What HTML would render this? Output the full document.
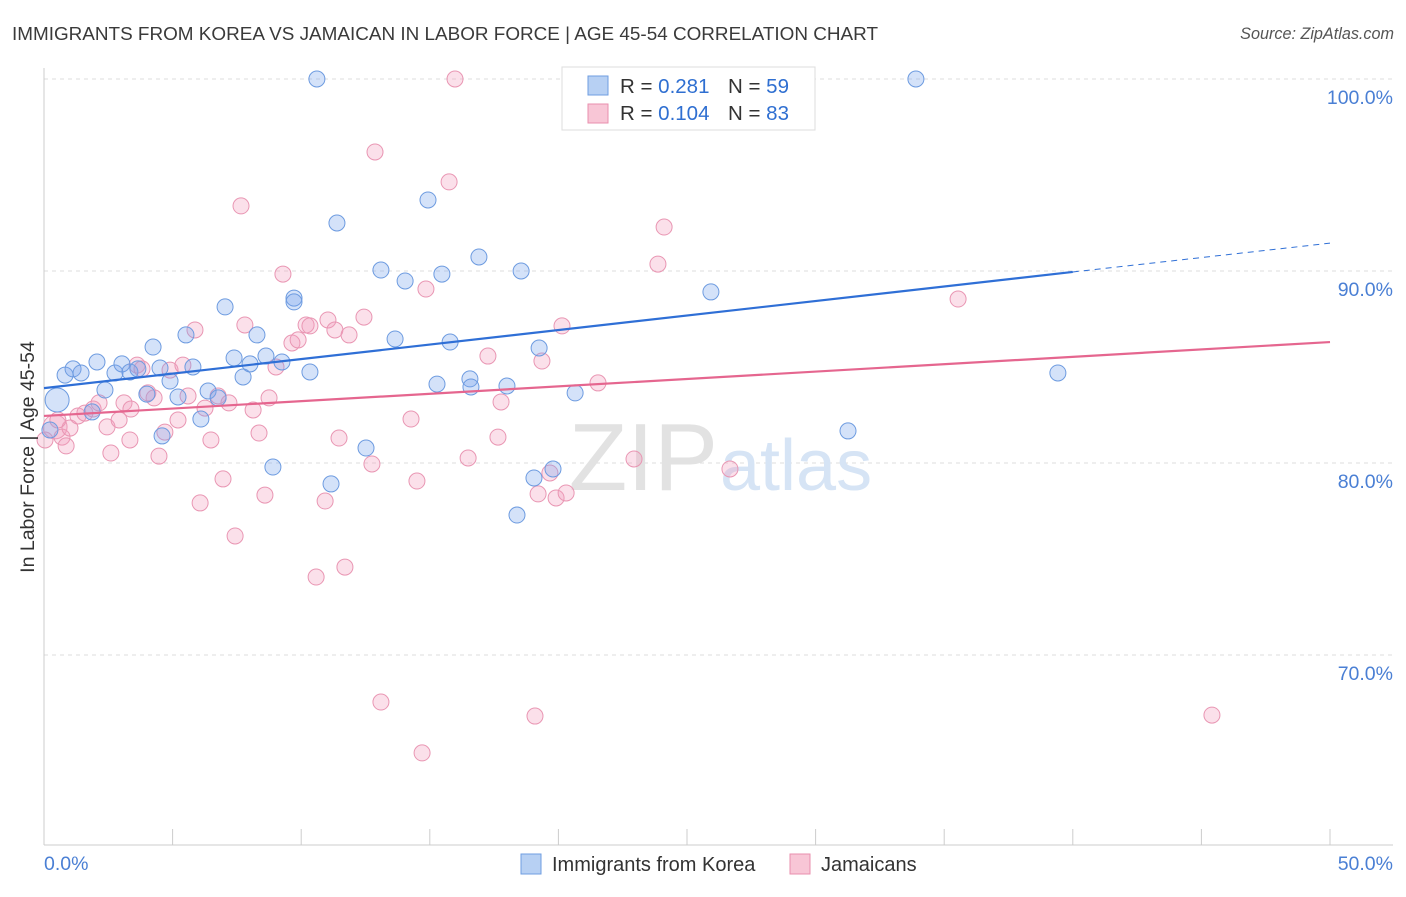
<!DOCTYPE html>
<html><head><meta charset="utf-8">
<style>
body{margin:0;background:#fff;font-family:"Liberation Sans",sans-serif;}
svg text{font-family:"Liberation Sans",sans-serif;}
</style></head>
<body>
<svg id="chart" width="1406" height="892" viewBox="0 0 1406 892" xmlns="http://www.w3.org/2000/svg">
<text x="12" y="40" font-size="18.9" fill="#3a3a3a">IMMIGRANTS FROM KOREA VS JAMAICAN IN LABOR FORCE | AGE 45-54 CORRELATION CHART</text>
<text x="1394" y="39" font-size="16.2" font-style="italic" fill="#555" text-anchor="end">Source: ZipAtlas.com</text>
<g id="grid"></g>
<g id="axes"></g>
<text x="718" y="490" font-size="96" fill="#e2e2e2" text-anchor="end" font-family="Liberation Serif">ZIP</text>
<text x="720" y="490" font-size="72" fill="#d6e4f5">atlas</text>
<g id="points"></g>
<g id="trends"></g>
<text transform="translate(34,457) rotate(-90)" font-size="19.5" fill="#333" text-anchor="middle">In Labor Force | Age 45-54</text>
<text x="44" y="870" font-size="19.5" fill="#4a7fd4">0.0%</text>
<text x="1393" y="870" font-size="19.5" fill="#4a7fd4" text-anchor="end">50.0%</text>
<g>
<rect x="562" y="67" width="253" height="63" fill="#fff" stroke="#ddd"/>
<rect x="588" y="76" width="20" height="19" fill="#b7d0f3" stroke="#6f9ee0"/>
<rect x="588" y="104" width="20" height="19" fill="#f8c6d6" stroke="#e98fae"/>
<text x="620" y="93" font-size="20.5" fill="#333">R = <tspan fill="#2f6fd1">0.281</tspan></text>
<text x="728" y="93" font-size="20.5" fill="#333">N = <tspan fill="#2f6fd1">59</tspan></text>
<text x="620" y="120" font-size="20.5" fill="#333">R = <tspan fill="#2f6fd1">0.104</tspan></text>
<text x="728" y="120" font-size="20.5" fill="#333">N = <tspan fill="#2f6fd1">83</tspan></text>
</g>
<g>
<rect x="521" y="854" width="20" height="20" fill="#b7d0f3" stroke="#6f9ee0"/>
<text x="552" y="871" font-size="20" fill="#333">Immigrants from Korea</text>
<rect x="790" y="854" width="20" height="20" fill="#f8c6d6" stroke="#e98fae"/>
<text x="821" y="871" font-size="20" fill="#333">Jamaicans</text>
</g>
</svg>
<script>
const yTicks=[100,90,80,70];
const yTickLabels=["100.0%","90.0%","80.0%","70.0%"];
const xTicks=[0,5,10,15,20,25,30,35,40,45,50];
const koreaX=[10.61,33.9,0.51,0.82,1.13,1.44,2.06,2.37,2.76,3.03,3.34,3.65,4.0,4.24,4.59,4.9,5.21,5.52,5.79,6.1,6.38,6.77,7.04,7.39,7.74,8.01,8.28,8.63,8.9,9.25,9.72,9.72,10.34,11.16,11.39,12.52,13.1,13.65,14.04,14.93,15.28,15.47,15.79,16.56,16.6,16.91,18.0,18.39,18.55,19.05,19.25,19.79,20.65,25.93,31.26,39.42,1.87,0.23,4.51];
const koreaY=[100,100,83.28,84.58,84.9,84.69,85.26,83.8,84.69,85.16,84.74,84.9,83.59,86.04,81.41,84.27,83.44,86.67,85.0,82.29,83.75,83.39,88.13,85.47,84.48,85.16,86.67,85.57,79.79,85.26,88.59,88.39,84.74,78.91,92.5,80.78,90.05,86.46,89.48,93.7,84.11,89.84,86.3,84.38,83.96,90.73,84.01,77.29,90.0,79.22,85.99,79.69,83.65,88.91,81.67,84.69,82.66,81.72,84.95];
const jamX=[0.43,0.7,0.86,1.01,1.32,1.59,1.91,2.14,2.45,2.6,2.92,3.11,3.38,3.62,3.81,4.04,4.28,4.47,4.7,4.9,5.21,5.4,5.6,5.87,6.07,6.26,6.49,6.77,6.96,7.19,7.43,7.66,7.81,8.13,8.36,8.59,8.75,9.02,9.29,9.64,9.88,10.19,10.34,10.58,10.93,11.04,11.31,11.47,11.7,11.86,12.44,12.75,12.87,13.1,14.27,14.5,14.7,14.85,15.75,15.98,16.49,17.26,17.65,17.77,19.09,19.21,19.36,19.67,19.91,20.14,20.3,21.54,22.94,23.87,24.11,26.67,28.46,35.54,45.41,0.04,0.54,3.34];
const jamY=[81.88,81.35,80.89,81.82,82.45,82.6,82.81,83.13,81.88,80.52,82.24,83.13,82.81,85.1,84.9,83.65,83.39,80.36,81.61,84.84,82.24,85.1,83.49,86.93,77.92,82.86,81.2,83.49,79.17,83.13,76.2,93.39,87.19,82.76,81.56,78.33,83.39,85.0,89.84,86.25,86.41,87.19,87.14,74.06,78.02,87.45,86.93,81.3,74.58,86.67,87.6,79.95,96.2,67.55,82.29,79.06,64.9,89.06,94.64,100,80.26,85.57,81.35,83.18,66.82,78.39,85.31,79.48,78.18,87.14,78.44,84.17,80.21,90.36,92.29,79.69,100,88.54,66.87,81.2,82.24,81.2];
const koreaTrend=[[0,83.9],[40,89.95],[50,91.45]];
const jamTrend=[[0,82.45],[50,86.3]];
const NS="http://www.w3.org/2000/svg";
const sx=v=>44+v/50*1286;
const sy=v=>79+(100-v)*19.2;
function mk(tag,attrs,parent){const e=document.createElementNS(NS,tag);for(const k in attrs)e.setAttribute(k,attrs[k]);parent.appendChild(e);return e;}
const grid=document.getElementById('grid');
yTicks.forEach((t,i)=>{
  const l=mk('line',{x1:44,x2:1393,y1:sy(t),y2:sy(t),stroke:'#ddd','stroke-dasharray':'4,4'},grid);
  
  
  const tx=mk('text',{x:1393,y:sy(t)+25,'font-size':19.5,fill:'#4a7fd4','text-anchor':'end'},grid);
  tx.textContent=yTickLabels[i];
  
  
});
const axes=document.getElementById('axes');
mk('line',{x1:44,x2:44,y1:68,y2:845,stroke:'#ccc'},axes);
mk('line',{x1:44,x2:1393,y1:845,y2:845,stroke:'#ccc'},axes);
xTicks.forEach(t=>{
  const l=mk('line',{x1:sx(t),x2:sx(t),y1:829,y2:845,stroke:'#ccc'},axes);
  
  
});
const pts=document.getElementById('points');
function drawSeries(xs,ys,fill,stroke,name){
  xs.forEach((x,i)=>{
    const big=(i===0&&name==='jamaican-point')||(i===2&&name==='korea-point');
    const c=mk('circle',{cx:sx(x),cy:sy(ys[i]),r:big?12:8,fill:fill,stroke:stroke,'stroke-width':1},pts);
    
    
  });
}
drawSeries(jamX,jamY,'rgba(244,160,190,0.32)','#e996b3','jamaican-point');
drawSeries(koreaX,koreaY,'rgba(120,165,235,0.32)','#6d9be0','korea-point');
const tr=document.getElementById('trends');
const kb=mk('line',{x1:sx(koreaTrend[0][0]),y1:sy(koreaTrend[0][1]),x2:sx(koreaTrend[1][0]),y2:sy(koreaTrend[1][1]),stroke:'#2f6fd6','stroke-width':2.2},tr);


const kd=mk('line',{x1:sx(koreaTrend[1][0]),y1:sy(koreaTrend[1][1]),x2:sx(koreaTrend[2][0]),y2:sy(koreaTrend[2][1]),stroke:'#2f6fd6','stroke-width':1,'stroke-dasharray':'6,5'},tr);


const jt=mk('line',{x1:sx(jamTrend[0][0]),y1:sy(jamTrend[0][1]),x2:sx(jamTrend[1][0]),y2:sy(jamTrend[1][1]),stroke:'#e5668f','stroke-width':2.2},tr);


</script>
</body></html>
